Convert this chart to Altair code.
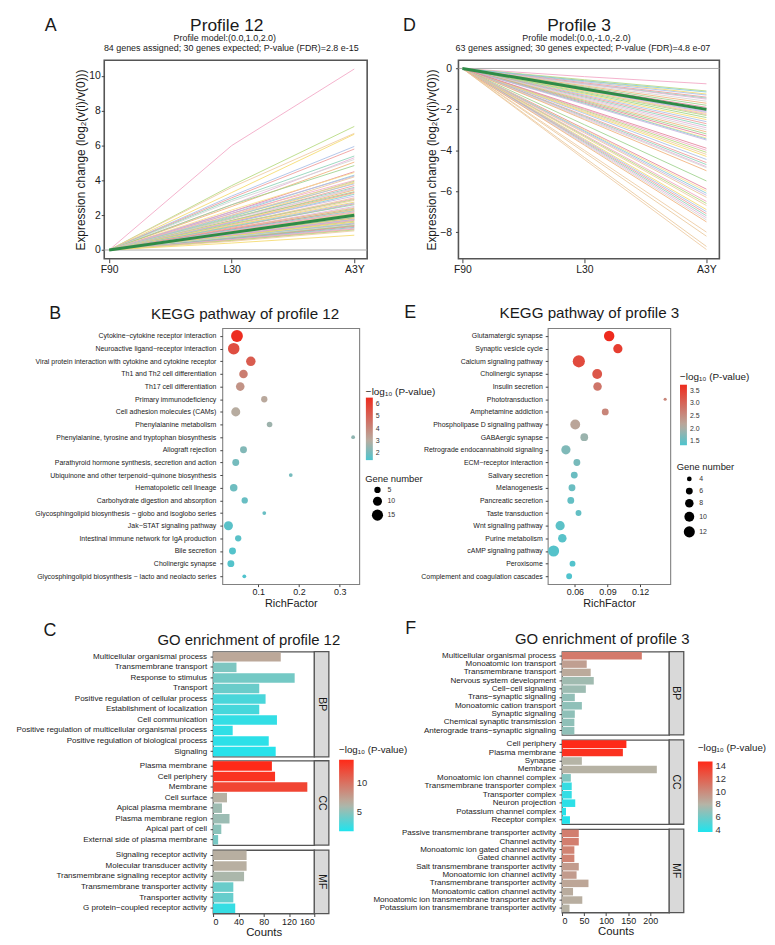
import altair as alt
import pandas as pd

FONT = "Liberation Sans"
INK = "#1a1a1a"

# ---------------- data ----------------
stages = ["F90", "L30", "A3Y"]

# Profile 12 (panel A): log2 ratio at L30 and A3Y for each gene (F90 = 0)
p12_l30 = [6.0, 3.7, 3.6, 3.3, 3.1, 3.0, 2.9, 2.6, 2.8, 2.5,
           2.6, 2.2, 2.3, 2.1, 2.2, 2.0, 2.1, 1.9, 2.0, 1.8,
           1.95, 1.8, 1.85, 1.7, 1.8, 1.65, 1.7, 1.6, 1.65, 1.55,
           1.6, 1.5, 1.45, 1.5, 1.4, 1.4, 1.35, 1.3, 1.35, 1.25,
           1.2, 1.25, 1.15, 1.2, 1.1, 1.15, 1.1, 1.05, 1.1, 1.0,
           1.05, 1.0, 1.0, 0.95, 1.0, 0.9, 0.95, 0.9, 0.95, 0.85,
           0.9, 0.85, 0.9, 0.8, 0.85, 0.8, 0.75, 0.8, 0.75, 0.7,
           0.75, 0.7, 0.75, 0.65, 0.7, 0.65, 0.6, 0.65, 0.6, 0.55,
           0.6, 0.55, 0.5, 0.4]
p12_a3y = [10.4, 7.1, 6.7, 6.65, 5.95, 5.8, 5.4, 5.3, 5.2, 5.05,
           4.85, 4.5, 4.45, 4.3, 4.25, 4.2, 4.0, 3.95, 3.9, 3.85,
           3.8, 3.7, 3.6, 3.55, 3.5, 3.45, 3.35, 3.3, 3.25, 3.2,
           3.1, 3.0, 2.95, 2.9, 2.85, 2.75, 2.7, 2.65, 2.6, 2.5,
           2.45, 2.4, 2.35, 2.3, 2.3, 2.25, 2.2, 2.2, 2.15, 2.1,
           2.1, 2.05, 2.0, 2.0, 1.95, 1.9, 1.9, 1.85, 1.85, 1.8,
           1.8, 1.75, 1.75, 1.7, 1.7, 1.65, 1.6, 1.6, 1.55, 1.5,
           1.5, 1.45, 1.45, 1.4, 1.4, 1.35, 1.3, 1.3, 1.25, 1.2,
           1.2, 1.15, 1.1, 0.85]
p12_model = [0.0, 1.0, 2.0]

# Profile 3 (panel D)
p3_l30 = [-0.4, -0.55, -4.45, -0.6, -0.65, -0.7, -0.75, -0.75, -0.8, -0.85,
          -0.9, -0.95, -1.0, -1.0, -1.05, -4.35, -1.1, -1.15, -4.0, -1.25,
          -1.3, -1.35, -1.4, -1.45, -1.5, -1.55, -1.6, -1.65, -1.7, -1.7,
          -1.75, -4.1, -2.0, -2.05, -2.1, -2.15, -2.2, -2.3, -2.35, -2.4,
          -2.45, -2.5, -2.75, -2.95, -3.0, -3.05, -3.1, -3.15, -3.25, -3.3,
          -3.35, -3.45, -3.5, -3.55, -3.6, -3.65, -3.7, -3.75, -1.2, -1.95,
          -1.1, -0.6, -1.05]
p3_a3y = [-0.75, -1.1, -8.85, -1.25, -1.3, -1.4, -1.45, -1.5, -1.6, -1.7,
          -1.8, -1.9, -2.0, -2.05, -2.1, -8.7, -2.25, -2.3, -8.0, -2.5,
          -2.6, -2.7, -2.8, -2.9, -3.0, -3.1, -3.2, -3.3, -3.4, -3.45,
          -3.5, -8.2, -4.0, -4.1, -4.2, -4.3, -4.45, -4.6, -4.7, -4.8,
          -4.85, -5.0, -5.5, -5.9, -6.0, -6.1, -6.2, -6.3, -6.5, -6.6,
          -6.7, -6.9, -7.0, -7.1, -7.2, -7.3, -7.4, -7.5, -2.4, -3.9,
          -2.2, -1.15, -2.15]
p3_model = [0.0, -1.0, -2.0]

line_colors = ["#F2A5C4", "#B4D97C", "#EDC9A0", "#F5DA6A", "#A7BEE6", "#EE9A98",
               "#8DD2B7", "#E6B2D7", "#D4D4D4", "#F1B07A", "#9CD08A", "#E4829A",
               "#F8DF8A", "#83C9D6", "#C8B3DF", "#E9C79A"]

# KEGG profile 12 (panel B)
kegg12_terms = ["Cytokine\u2212cytokine receptor interaction",
                "Neuroactive ligand\u2212receptor interaction",
                "Viral protein interaction with cytokine and cytokine receptor",
                "Th1 and Th2 cell differentiation",
                "Th17 cell differentiation",
                "Primary immunodeficiency",
                "Cell adhesion molecules (CAMs)",
                "Phenylalanine metabolism",
                "Phenylalanine, tyrosine and tryptophan biosynthesis",
                "Allograft rejection",
                "Parathyroid hormone synthesis, secretion and action",
                "Ubiquinone and other terpenoid\u2212quinone biosynthesis",
                "Hematopoietic cell lineage",
                "Carbohydrate digestion and absorption",
                "Glycosphingolipid biosynthesis \u2212 globo and isoglobo series",
                "Jak\u2212STAT signaling pathway",
                "Intestinal immune network for IgA production",
                "Bile secretion",
                "Cholinergic synapse",
                "Glycosphingolipid biosynthesis \u2212 lacto and neolacto series"]
kegg12_rich = [0.048, 0.040, 0.082, 0.064, 0.056, 0.115, 0.045, 0.128, 0.333, 0.064,
               0.045, 0.180, 0.040, 0.067, 0.115, 0.027, 0.051, 0.037, 0.033, 0.066]
kegg12_genes = [17, 16, 11, 9, 9, 5, 10, 4, 2, 6, 6, 2, 7, 5, 2, 10, 5, 6, 6, 2]
kegg12_logp = [6.5, 5.6, 5.2, 4.3, 3.7, 3.1, 3.0, 2.6, 2.4, 2.2,
               2.0, 2.0, 1.9, 1.8, 1.8, 1.6, 1.6, 1.5, 1.5, 1.45]

# KEGG profile 3 (panel E)
kegg3_terms = ["Glutamatergic synapse", "Synaptic vesicle cycle", "Calcium signaling pathway",
               "Cholinergic synapse", "Insulin secretion", "Phototransduction",
               "Amphetamine addiction", "Phospholipase D signaling pathway", "GABAergic synapse",
               "Retrograde endocannabinoid signaling", "ECM\u2212receptor interaction",
               "Salivary secretion", "Melanogenesis", "Pancreatic secretion", "Taste transduction",
               "Wnt signaling pathway", "Purine metabolism", "cAMP signaling pathway",
               "Peroxisome", "Complement and coagulation cascades"]
kegg3_rich = [0.0915, 0.0995, 0.0636, 0.0805, 0.0808, 0.143, 0.0879, 0.0603, 0.0686, 0.0517,
              0.0618, 0.0594, 0.0573, 0.0562, 0.0633, 0.0464, 0.0484, 0.0404, 0.0578, 0.0547]
kegg3_genes = [11, 9, 14, 10, 8, 3, 6, 10, 7, 9, 6, 6, 6, 6, 5, 9, 8, 12, 5, 5]
kegg3_logp = [3.74, 3.5, 3.35, 3.2, 2.8, 2.6, 2.6, 2.2, 1.9, 1.7,
              1.65, 1.55, 1.55, 1.5, 1.5, 1.45, 1.42, 1.4, 1.38, 1.36]

# GO profile 12 (panel C)
go12_bp_terms = ["Multicellular organismal process", "Transmembrane transport", "Response to stimulus",
                 "Transport", "Positive regulation of cellular process", "Establishment of localization",
                 "Cell communication", "Positive regulation of multicellular organismal process",
                 "Positive regulation of biological process", "Signaling"]
go12_bp_counts = [107, 37, 129, 73, 83, 73, 101, 31, 88, 99]
go12_bp_logp = [7.0, 4.6, 4.3, 4.0, 3.0, 2.9, 2.3, 2.2, 2.1, 1.9]
go12_cc_terms = ["Plasma membrane", "Cell periphery", "Membrane", "Cell surface",
                 "Apical plasma membrane", "Plasma membrane region", "Apical part of cell",
                 "External side of plasma membrane"]
go12_cc_counts = [93, 98, 149, 22, 14, 26, 13, 8]
go12_cc_logp = [14.1, 13.6, 12.6, 6.4, 5.6, 5.5, 5.0, 4.4]
go12_mf_terms = ["Signaling receptor activity", "Molecular transducer activity",
                 "Transmembrane signaling receptor activity", "Transmembrane transporter activity",
                 "Transporter activity", "G protein\u2212coupled receptor activity"]
go12_mf_counts = [53, 53, 49, 32, 32, 35]
go12_mf_logp = [6.6, 6.6, 6.0, 4.0, 3.9, 2.4]

# GO profile 3 (panel F)
go3_bp_terms = ["Multicellular organismal process", "Monoatomic ion transport", "Transmembrane transport",
                "Nervous system development", "Cell\u2212cell signaling", "Trans\u2212synaptic signaling",
                "Monoatomic cation transport", "Synaptic signaling", "Chemical synaptic transmission",
                "Anterograde trans\u2212synaptic signaling"]
go3_bp_counts = [181, 56, 65, 72, 54, 29, 45, 29, 28, 28]
go3_bp_logp = [10.8, 9.0, 8.5, 7.4, 7.3, 7.0, 6.9, 6.9, 6.9, 6.9]
go3_cc_terms = ["Cell periphery", "Plasma membrane", "Synapse", "Membrane",
                "Monoatomic ion channel complex", "Transmembrane transporter complex",
                "Transporter complex", "Neuron projection", "Potassium channel complex",
                "Receptor complex"]
go3_cc_counts = [146, 138, 45, 215, 20, 22, 22, 30, 9, 18]
go3_cc_logp = [14.7, 14.3, 8.0, 8.1, 6.5, 4.4, 4.3, 4.1, 4.0, 3.8]
go3_mf_terms = ["Passive transmembrane transporter activity", "Channel activity",
                "Monoatomic ion gated channel activity", "Gated channel activity",
                "Salt transmembrane transporter activity", "Monoatomic ion channel activity",
                "Transmembrane transporter activity", "Monoatomic cation channel activity",
                "Monoatomic ion transmembrane transporter activity",
                "Potassium ion transmembrane transporter activity"]
go3_mf_counts = [38, 38, 28, 28, 38, 33, 60, 25, 46, 17]
go3_mf_logp = [10.6, 10.6, 10.4, 10.4, 9.2, 9.2, 8.7, 8.4, 8.3, 8.1]

LEG_TITLE = "\u2212log\u2081\u2080 (P-value)"
ONE = pd.DataFrame({"k": [0]})


# ---------------- helpers ----------------
def text_layer(text, x, y, size, angle=0, color=INK):
    return alt.Chart(ONE).mark_text(
        text=text, font=FONT, fontSize=size, align="center", baseline="middle",
        angle=angle, color=color
    ).encode(x=alt.value(x), y=alt.value(y))


def anchor(x, y):
    # invisible 1px box that pins the layout bounds of a panel
    return alt.Chart(ONE).mark_rect(opacity=0).encode(
        x=alt.value(x), x2=alt.value(x + 1), y=alt.value(y), y2=alt.value(y + 1))


def spacer(w, h=1):
    return alt.Chart(ONE).mark_rect(opacity=0).encode(
        x=alt.value(0), x2=alt.value(w), y=alt.value(0), y2=alt.value(h)
    ).properties(width=w, height=h,
                 view=alt.ViewBackground(stroke="transparent", fill="transparent"))


def profile_panel(l30, a3y, model, xdom, ydom, yvals, W, H, texts, lab_pad, title_pad):
    rows = []
    for i, (m, e) in enumerate(zip(l30, a3y)):
        for t, v in enumerate([0.0, m, e]):
            rows.append({"gene": f"g{i:02d}", "t": t, "v": v})
    df = pd.DataFrame(rows)
    mdf = pd.DataFrame({"t": list(range(len(stages))), "v": model})
    xs = alt.Scale(domain=xdom, nice=False, zero=False)
    ys = alt.Scale(domain=ydom, nice=False, zero=False)
    label_expr = "[" + ",".join(f"'{s}'" for s in stages) + "][datum.value]"
    xax = alt.Axis(values=list(range(len(stages))), labelExpr=label_expr, title=None, grid=False,
                   domain=False, tickSize=4, tickColor="#444", labelFont=FONT, labelFontSize=10.5,
                   labelColor=INK, labelPadding=2)
    yax = alt.Axis(values=yvals, title="Expression change (log\u2082(v(i)/v(0)))", grid=False,
                   domain=False, tickSize=3, tickColor="#444", labelFont=FONT, labelFontSize=10.5,
                   labelColor=INK, labelPadding=lab_pad, titleFont=FONT, titleFontSize=12,
                   titleFontWeight="normal", titleColor=INK, titlePadding=title_pad)
    zero = alt.Chart(pd.DataFrame({"v": [0.0]})).mark_rule(color="#A8A8A8", strokeWidth=1).encode(
        y=alt.Y("v:Q", scale=ys, axis=yax))
    lines = alt.Chart(df).mark_line(strokeWidth=1, opacity=0.85).encode(
        x=alt.X("t:Q", scale=xs, axis=xax),
        y=alt.Y("v:Q", scale=ys, axis=yax),
        color=alt.Color("gene:N", scale=alt.Scale(range=line_colors), legend=None))
    mline = alt.Chart(mdf).mark_line(color="#2E8B47", strokeWidth=3).encode(
        x=alt.X("t:Q", scale=xs, axis=xax), y=alt.Y("v:Q", scale=ys, axis=yax))
    return alt.layer(zero, lines, mline, *texts).properties(
        width=W, height=H, view=alt.ViewBackground(stroke="#555555", strokeWidth=1.6))


KEGG_RANGE = ["#4DC4CE", "#B7ACA0", "#EE2B1E"]


def kegg_panel(terms, rich, genes, logp, xdom, xvals, xfmt, cdom, cvals, cfmt, cleg, sdom, srange,
               svals, sleg, W, H, texts, lab_pad):
    df = pd.DataFrame({"term": terms, "rich": rich, "genes": genes, "logp": logp})
    pts = alt.Chart(df).mark_circle(opacity=1).encode(
        x=alt.X("rich:Q", scale=alt.Scale(domain=xdom, nice=False, zero=False),
                axis=alt.Axis(values=xvals, format=xfmt, title="RichFactor", grid=False, domain=False,
                              tickSize=2.5, tickColor="#444", labelFont=FONT, labelFontSize=9,
                              labelColor=INK, labelPadding=0.5, titleFont=FONT, titleFontSize=11,
                              titleFontWeight="normal", titleColor=INK, titlePadding=2)),
        y=alt.Y("term:N", sort=terms, scale=alt.Scale(type="point", padding=0.62),
                axis=alt.Axis(title=None, grid=False, domain=False, tickSize=2.5, tickColor="#444",
                              labelFont=FONT, labelFontSize=7, labelColor=INK, labelPadding=lab_pad,
                              labelLimit=400)),
        color=alt.Color("logp:Q", scale=alt.Scale(domain=cdom, range=KEGG_RANGE, interpolate="rgb",
                                                  zero=False),
                        legend=alt.Legend(orient="none", legendX=cleg[0], legendY=cleg[1],
                                          title=LEG_TITLE, titleFont=FONT, titleFontSize=10,
                                          titleFontWeight="normal", titleColor=INK,
                                          titlePadding=cleg[2], gradientLength=cleg[3],
                                          gradientThickness=7, gradientStrokeWidth=0,
                                          labelFont=FONT, labelFontSize=7, labelColor="#333",
                                          labelOffset=3, values=cvals, format=cfmt,
                                          labelOverlap=False, direction="vertical")),
        size=alt.Size("genes:Q", scale=alt.Scale(domain=sdom, range=srange, zero=False),
                      legend=alt.Legend(orient="none", legendX=sleg[0], legendY=sleg[1],
                                        title="Gene number", titleFont=FONT, titleFontSize=9.5,
                                        titleFontWeight="normal", titleColor=INK,
                                        titlePadding=sleg[2], rowPadding=sleg[3],
                                        symbolOffset=sleg[4], values=svals,
                                        symbolFillColor="black", symbolStrokeColor="black",
                                        symbolStrokeWidth=0, symbolOpacity=1, symbolType="circle",
                                        labelFont=FONT, labelFontSize=7, labelColor="#333",
                                        labelOffset=4)),
    )
    return alt.layer(pts, *texts).properties(
        width=W, height=H, view=alt.ViewBackground(stroke="#808080", strokeWidth=1.1))


def go_sub(terms, counts, logp, strip, W, H, xdom, xvals, cscale, show_x, legend, texts, lab_pad):
    df = pd.DataFrame({"term": terms, "count": counts, "logp": logp})
    if show_x:
        xax = alt.Axis(values=xvals, title="Counts", grid=False, domain=False, tickSize=3,
                       tickColor="#444", labelFont=FONT, labelFontSize=9, labelColor=INK,
                       labelPadding=1, titleFont=FONT, titleFontSize=11.5, titleFontWeight="normal",
                       titleColor=INK, titlePadding=0)
    else:
        xax = None
    bars = alt.Chart(df).mark_bar().encode(
        x=alt.X("count:Q", scale=alt.Scale(domain=xdom, nice=False, zero=True), axis=xax),
        y=alt.Y("term:N", sort=terms, scale=alt.Scale(paddingInner=0.1, paddingOuter=0.05),
                axis=alt.Axis(title=None, grid=False, domain=False, tickSize=3, tickColor="#444",
                              labelFont=FONT, labelFontSize=8.1, labelColor=INK,
                              labelPadding=lab_pad, labelLimit=400)),
        color=alt.Color("logp:Q", scale=cscale, legend=legend))
    strip_rect = alt.Chart(ONE).mark_rect(fill="#D9D9D9", stroke="#555555", strokeWidth=1.3).encode(
        x=alt.value(W), x2=alt.value(W + 14.7), y=alt.value(0), y2=alt.value(H))
    strip_txt = text_layer(strip, W + 7.35, H / 2, 10.5, angle=90)
    return alt.layer(bars, strip_rect, strip_txt, *texts).properties(
        width=W, height=H, view=alt.ViewBackground(stroke="#555555", strokeWidth=1.3))


def go_legend(x, y, tp, length, vals):
    return alt.Legend(orient="none", legendX=x, legendY=y, title=LEG_TITLE, titleFont=FONT,
                      titleFontSize=9.8, titleFontWeight="normal", titleColor=INK, titlePadding=tp,
                      gradientLength=length, gradientThickness=14.7, gradientStrokeWidth=0,
                      labelFont=FONT, labelFontSize=9.5, labelColor="#333", labelOffset=3,
                      values=vals, labelOverlap=False, direction="vertical")


# ---------------- panels ----------------
HA = 200
A = profile_panel(
    p12_l30, p12_a3y, p12_model, [-0.04, 2.105], [-0.5, 10.9], [0, 2, 4, 6, 8, 10], 265, HA,
    [text_layer("A", -54, -35, 18),
     text_layer("Profile 12", 123.5, -35, 17.5),
     text_layer("Profile model:(0.0,1.0,2.0)", 121.5, -22, 9),
     text_layer("84 genes assigned; 30 genes expected; P-value (FDR)=2.8 e-15", 128, -12, 9),
     anchor(0, -48), anchor(0, HA + 21)],
    1, 1)

D = profile_panel(
    p3_l30, p3_a3y, p3_model, [-0.0325, 2.106], [-9.3, 0.4], [0, -2, -4, -6, -8], 263, HA,
    [text_layer("D", -49.3, -35, 18),
     text_layer("Profile 3", 121.5, -35, 17.5),
     text_layer("Profile model:(0.0,-1.0,-2.0)", 119, -22, 9),
     text_layer("63 genes assigned; 30 genes expected; P-value (FDR)=4.8 e-07", 125.5, -12, 9)],
    4, 1.6)

HB = 258
B = kegg_panel(
    kegg12_terms, kegg12_rich, kegg12_genes, kegg12_logp, [0.012, 0.348], [0.1, 0.2, 0.3], ".1f",
    [1.4, 3.0, 6.55], [2, 3, 4, 5, 6], "d", (144.7, 59, 1, 63),
    [2, 17], [14.5, 143], [5, 10, 15], (144, 147, 3, 3, 6.4),
    138, HB,
    [text_layer("B", -168.5, -14, 18),
     text_layer("KEGG pathway of profile 12", 23, -14, 15.3),
     anchor(0, -46), anchor(0, 287)],
    4)

E = kegg_panel(
    kegg3_terms, kegg3_rich, kegg3_genes, kegg3_logp, [0.035, 0.1477], [0.06, 0.09, 0.12], ".2f",
    [1.34, 2.11, 3.74], [1.5, 2.0, 2.5, 3.0, 3.5], ".1f", (133.3, 44, 3, 61),
    [3, 14], [10, 150], [4, 6, 8, 10, 12], (130, 135, 4, 4.2, 6.7),
    123.5, HB,
    [text_layer("E", -138.5, -15, 18),
     text_layer("KEGG pathway of profile 3", 42, -15, 15.3)],
    3)

C_SCALE = alt.Scale(domain=[1.7, 6.3, 14.1], range=["#1FE4EE", "#B5B4A6", "#FF2A18"],
                    interpolate="rgb", zero=False)
F_SCALE = alt.Scale(domain=[3.7, 8.0, 14.7], range=["#1FE4EE", "#B5B4A6", "#FF2A18"],
                    interpolate="rgb", zero=False)

CW, FW = 102, 108
C_LEFT, C_RIGHT, F_LEFT = 204, 215, 206
C_BP = go_sub(go12_bp_terms, go12_bp_counts, go12_bp_logp, "BP", CW, 106, [0, 160], None, C_SCALE,
              False, go_legend(127, 94.5, 4.7, 72, [5, 10]),
              [text_layer("C", -164.5, -20.5, 18),
               text_layer("GO enrichment of profile 12", 36, -12, 15),
               anchor(-C_LEFT, -36), anchor(C_RIGHT - 1, 0)], 3.5)
C_CC = go_sub(go12_cc_terms, go12_cc_counts, go12_cc_logp, "CC", CW, 85, [0, 160], None, C_SCALE,
              False, None, [], 3.5)
C_MF = go_sub(go12_mf_terms, go12_mf_counts, go12_mf_logp, "MF", CW, 64, [0, 160],
              [0, 40, 80, 120, 160], C_SCALE, True, None, [], 3.5)

F_BP = go_sub(go3_bp_terms, go3_bp_counts, go3_bp_logp, "BP", FW, 84, [0, 243], None, F_SCALE,
              False, go_legend(137, 92.5, 8.5, 71, [4, 6, 8, 10, 12, 14]),
              [text_layer("F", -152.5, -23, 18),
               text_layer("GO enrichment of profile 3", 40.5, -13, 15),
               anchor(-F_LEFT, 0)], 3.5)
F_CC = go_sub(go3_cc_terms, go3_cc_counts, go3_cc_logp, "CC", FW, 85, [0, 243], None, F_SCALE,
              False, None, [], 3.5)
F_MF = go_sub(go3_mf_terms, go3_mf_counts, go3_mf_logp, "MF", FW, 84, [0, 243],
              [0, 50, 100, 150, 200], F_SCALE, True, None, [], 3.5)

# ---------------- layout ----------------
IND = dict(color="independent", size="independent")

row1 = alt.hconcat(spacer(96), A, spacer(92), D, spacing=0, bounds="flush").resolve_scale(**IND)
row2 = alt.hconcat(spacer(215), B, spacer(190), E, spacing=0, bounds="flush").resolve_scale(**IND)

C_group = alt.vconcat(C_BP, spacer(1, 4), C_CC, spacer(1, 5), C_MF, spacing=0, bounds="flush")
F_group = alt.vconcat(F_BP, spacer(1, 5), F_CC, spacer(1, 5), F_MF, spacing=0, bounds="flush")

C_X, F_X = 204, 553.7
gap3 = F_X - (C_X + C_RIGHT + F_LEFT)
row3 = alt.hconcat(spacer(C_X - C_LEFT - gap3), C_group, F_group, spacing=gap3,
                   bounds="full").resolve_scale(**IND)

chart = alt.vconcat(row1, row2, row3, spacing=0, bounds="full").resolve_scale(**IND).properties(
    padding=0, background="white").configure(font=FONT).configure_view(stroke="transparent")

chart.save("out.html", embed_options={"renderer": "svg", "actions": False})
